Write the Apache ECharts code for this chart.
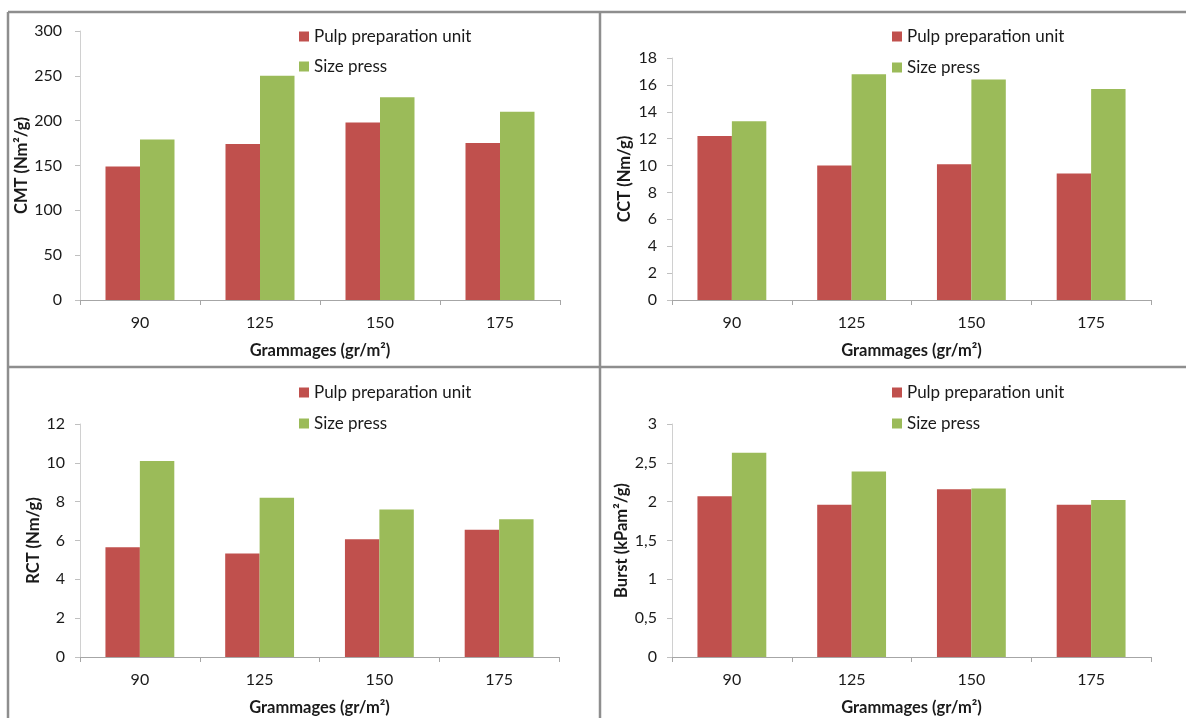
<!DOCTYPE html>
<html>
<head>
<meta charset="utf-8">
<script src="https://cdn.jsdelivr.net/npm/echarts@6/dist/echarts.min.js"></script>
<style>
  html, body { margin: 0; padding: 0; background: #fff; }
  #chart { width: 1186px; height: 718px; }
</style>
</head>
<body>
<div id="chart"></div>
<script>
// Grammage categories shared by all four panels
const grammages = ['90', '125', '150', '175'];
const seriesNames = ['Pulp preparation unit', 'Size press'];
const xTitle = 'Grammages (gr/m²)';

// CMT (Nm²/g)
const cmtPulp = [149, 174, 198, 175];
const cmtSize = [179, 250, 226, 210];
// CCT (Nm/g)
const cctPulp = [12.2, 10.0, 10.1, 9.4];
const cctSize = [13.3, 16.8, 16.4, 15.7];
// RCT (Nm/g)
const rctPulp = [5.65, 5.33, 6.07, 6.55];
const rctSize = [10.1, 8.2, 7.6, 7.1];
// Burst (kPam²/g)
const burstPulp = [2.07, 1.96, 2.16, 1.96];
const burstSize = [2.63, 2.39, 2.17, 2.02];

const yTitles = ['CMT (Nm²/g)', 'CCT (Nm/g)', 'RCT (Nm/g)', 'Burst (kPam²/g)'];
const yMax = [300, 18, 12, 3];
const yStep = [50, 2, 2, 0.5];

const FONT = 'Lato, "Open Sans", sans-serif';
const RED = '#C0504D';
const GREEN = '#9BBB59';
const TXT = '#1a1a1a';

// Panel geometry (pixels)
const panels = [
  { grid: { left: 80, top: 31, width: 480, height: 269 }, yGap: 43, yLabMargin: 18, xGap: 42, legend: { left: 299, top: 28, gap: 13 } },
  { grid: { left: 672, top: 58, width: 479, height: 242 }, yGap: 39, yLabMargin: 15, xGap: 42, legend: { left: 892, top: 28, gap: 14 } },
  { grid: { left: 80, top: 424, width: 479, height: 233 }, yGap: 35, yLabMargin: 15, xGap: 42, legend: { left: 299, top: 384, gap: 14 } },
  { grid: { left: 672, top: 424, width: 479, height: 233 }, yGap: 42, yLabMargin: 15, xGap: 42, legend: { left: 892, top: 384, gap: 14 } }
];
const data = [
  [cmtPulp, cmtSize],
  [cctPulp, cctSize],
  [rctPulp, rctSize],
  [burstPulp, burstSize]
];

const option = {
  animation: false,
  backgroundColor: '#fff',
  textStyle: { fontFamily: FONT },
  grid: [], xAxis: [], yAxis: [], series: [], legend: [],
  graphic: [
    // panel frames
    { type: 'line', shape: { x1: 8, y1: 12, x2: 1186, y2: 12 }, style: { stroke: '#8e8e8e', lineWidth: 2.5 } },
    { type: 'line', shape: { x1: 8, y1: 12, x2: 8, y2: 718 }, style: { stroke: '#8e8e8e', lineWidth: 2.5 } },
    { type: 'line', shape: { x1: 600, y1: 12, x2: 600, y2: 718 }, style: { stroke: '#8e8e8e', lineWidth: 2.5 } },
    { type: 'line', shape: { x1: 8, y1: 367, x2: 1186, y2: 367 }, style: { stroke: '#8e8e8e', lineWidth: 2.5 } }
  ]
};

panels.forEach((p, i) => {
  option.grid.push(Object.assign({ containLabel: false }, p.grid));
  option.xAxis.push({
    type: 'category', gridIndex: i, data: grammages,
    name: xTitle, nameLocation: 'middle', nameGap: p.xGap,
    nameTextStyle: { fontFamily: FONT, fontSize: 16.5, fontWeight: 'bold', color: TXT },
    axisLine: { lineStyle: { color: '#a6a6a6', width: 1 } },
    axisTick: { show: true, length: 5, lineStyle: { color: '#a6a6a6' } },
    axisLabel: { margin: 15, fontFamily: FONT, fontSize: 16, color: TXT },
    splitLine: { show: false }
  });
  option.yAxis.push({
    type: 'value', gridIndex: i, min: 0, max: yMax[i], interval: yStep[i],
    name: yTitles[i], nameLocation: 'middle', nameGap: p.yGap,
    nameTextStyle: { fontFamily: FONT, fontSize: 16.5, fontWeight: 'bold', color: TXT },
    axisLine: { show: true, lineStyle: { color: '#d0d0d0', width: 1 } },
    axisTick: { show: true, length: 5, lineStyle: { color: '#c0c0c0' } },
    axisLabel: {
      margin: p.yLabMargin, fontFamily: FONT, fontSize: 16, color: TXT,
      formatter: v => String(v).replace('.', ',')
    },
    splitLine: { show: false }
  });
  const pair = data[i];
  option.series.push({
    name: seriesNames[0], type: 'bar', xAxisIndex: i, yAxisIndex: i,
    data: pair[0], itemStyle: { color: RED },
    barGap: '0%', barCategoryGap: '42.5%'
  });
  option.series.push({
    name: seriesNames[1], type: 'bar', xAxisIndex: i, yAxisIndex: i,
    data: pair[1], itemStyle: { color: GREEN },
    barGap: '0%', barCategoryGap: '42.5%'
  });
  option.legend.push({
    data: seriesNames, orient: 'vertical', left: p.legend.left, top: p.legend.top,
    icon: 'rect', itemWidth: 10, itemHeight: 10, itemGap: p.legend.gap,
    padding: 0,
    textStyle: { fontFamily: FONT, fontSize: 17, color: TXT, padding: [0, 0, 0, 0] },
    selectedMode: false
  });
});

const chart = echarts.init(document.getElementById('chart'), null, { renderer: 'canvas' });
chart.setOption(option);
</script>
</body>
</html>
